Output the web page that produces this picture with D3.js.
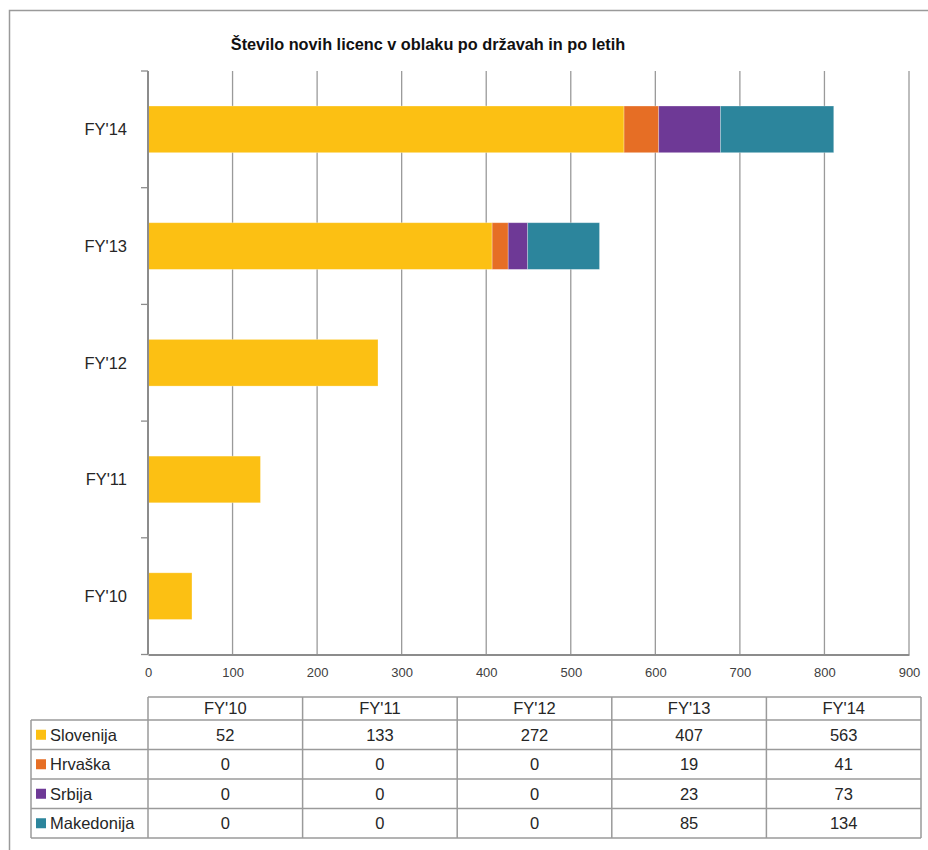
<!DOCTYPE html>
<html><head><meta charset="utf-8">
<script src="https://cdn.jsdelivr.net/npm/d3@7"></script>
<style>
body{margin:0;background:#fff;}
svg{display:block;font-family:"Liberation Sans",Arial,sans-serif;}
</style></head>
<body><svg id="c" width="928" height="850"></svg>
<script>
const years = ["FY'10","FY'11","FY'12","FY'13","FY'14"];
const countries = ["Slovenija","Hrvaška","Srbija","Makedonija"];
const slovenija = [52,133,272,407,563];
const hrvaska = [0,0,0,19,41];
const srbija = [0,0,0,23,73];
const makedonija = [0,0,0,85,134];
const colors = ["#FCC013","#E66E25","#6E3996","#2C859C"];
const xTicks = [0,100,200,300,400,500,600,700,800,900];
const title = "Število novih licenc v oblaku po državah in po letih";

const seriesVals = [slovenija,hrvaska,srbija,makedonija];
const rows = years.map((y,i)=>{const o={year:y};countries.forEach((c,j)=>o[c]=seriesVals[j][i]);return o;});
const stacked = d3.stack().keys(countries)(rows);

const svg = d3.select("#c");
const grey = "#9a9a9a";

// outer frame
svg.append("path").attr("d","M9.5,900 V10.5 H940").attr("fill","none").attr("stroke",grey).attr("stroke-width",1.5);

// title
svg.append("text").attr("x",428).attr("y",50).attr("text-anchor","middle")
  .attr("font-size",16.3).attr("font-weight","bold").attr("fill","#111").text(title);

const L=148, R=909, T=71, B=654.5;
const x = d3.scaleLinear().domain([0,900]).range([L,R]);
const y = d3.scaleBand().domain(years.slice().reverse()).range([T,B]).paddingInner(0.6).paddingOuter(0.3);
const yb = d3.scaleBand().domain(years.slice().reverse()).range([T,B]);

// gridlines
svg.append("g").selectAll("line").data(xTicks.filter(d=>d>0)).join("line")
  .attr("x1",d=>x(d)).attr("x2",d=>x(d)).attr("y1",T).attr("y2",B)
  .attr("stroke",grey).attr("stroke-width",1.3);

// bars
svg.append("g").selectAll("g").data(stacked).join("g")
  .attr("fill",(d,i)=>colors[i])
  .selectAll("rect").data(d=>d).join("rect")
  .attr("x",d=>x(d[0])).attr("width",d=>x(d[1])-x(d[0]))
  .attr("y",d=>y(d.data.year)).attr("height",y.bandwidth())
  .attr("stroke",d=>(d[1]-d[0])>0?"rgba(255,255,255,0.35)":"none").attr("stroke-width",0.8);

// x axis
const xAxis = d3.axisBottom(x).tickValues(xTicks).tickSize(0).tickPadding(13);
const gx = svg.append("g").attr("transform",`translate(0,${B})`).call(xAxis);
gx.select(".domain").attr("stroke","#8c8c8c").attr("stroke-width",2);
gx.selectAll("text").attr("font-size",13).attr("fill","#404040");

// y axis
const gy = svg.append("g").attr("transform",`translate(${L},0)`);
gy.append("line").attr("x1",0).attr("x2",0).attr("y1",T).attr("y2",B).attr("stroke","#8c8c8c").attr("stroke-width",2);
const bounds = years.slice().reverse().map(d=>yb(d)).concat([B]);
gy.selectAll("line.tk").data(bounds).join("line").attr("class","tk")
  .attr("x1",-7).attr("x2",0).attr("y1",d=>d).attr("y2",d=>d).attr("stroke","#8c8c8c").attr("stroke-width",1.3);
gy.selectAll("text").data(years).join("text")
  .attr("x",-21).attr("y",d=>yb(d)+yb.bandwidth()/2).attr("dy","0.35em")
  .attr("text-anchor","end").attr("font-size",16.5).attr("fill","#262626").text(d=>d);

// data table
const tL=31, c0=148, tR=921;
const rowY=[697,720,749.5,779,808.5,838];
const col = d3.scaleBand().domain(years).range([c0,tR]);
const tg = svg.append("g");
const ls = {stroke:"#9a9a9a","stroke-width":1.5};
tg.append("line").attr("x1",c0).attr("x2",tR).attr("y1",rowY[0]).attr("y2",rowY[0]).attr("stroke",ls.stroke).attr("stroke-width",ls["stroke-width"]);
for(let i=1;i<rowY.length;i++){
  tg.append("line").attr("x1",tL).attr("x2",tR).attr("y1",rowY[i]).attr("y2",rowY[i]).attr("stroke",ls.stroke).attr("stroke-width",ls["stroke-width"]);
}
tg.append("line").attr("x1",tL).attr("x2",tL).attr("y1",rowY[1]).attr("y2",rowY[5]).attr("stroke",ls.stroke).attr("stroke-width",ls["stroke-width"]);
years.forEach(yr=>{
  tg.append("line").attr("x1",col(yr)).attr("x2",col(yr)).attr("y1",rowY[0]).attr("y2",rowY[5]).attr("stroke",ls.stroke).attr("stroke-width",ls["stroke-width"]);
});
tg.append("line").attr("x1",tR).attr("x2",tR).attr("y1",rowY[0]).attr("y2",rowY[5]).attr("stroke",ls.stroke).attr("stroke-width",ls["stroke-width"]);
const fs = 16.5;
tg.selectAll("text.h").data(years).join("text").attr("class","h")
  .attr("x",d=>col(d)+col.bandwidth()/2).attr("y",(rowY[0]+rowY[1])/2).attr("dy","0.36em")
  .attr("text-anchor","middle").attr("font-size",fs).attr("fill","#262626").text(d=>d);
countries.forEach((c,j)=>{
  const cy=(rowY[j+1]+rowY[j+2])/2;
  tg.append("rect").attr("x",36).attr("y",cy-5).attr("width",10).attr("height",10).attr("fill",colors[j]);
  tg.append("text").attr("x",50).attr("y",cy).attr("dy","0.36em").attr("font-size",fs).attr("fill","#262626").text(c);
  years.forEach((yr,i)=>{
    tg.append("text").attr("x",col(yr)+col.bandwidth()/2).attr("y",cy).attr("dy","0.36em")
      .attr("text-anchor","middle").attr("font-size",fs).attr("fill","#262626").text(seriesVals[j][i]);
  });
});
</script></body></html>
